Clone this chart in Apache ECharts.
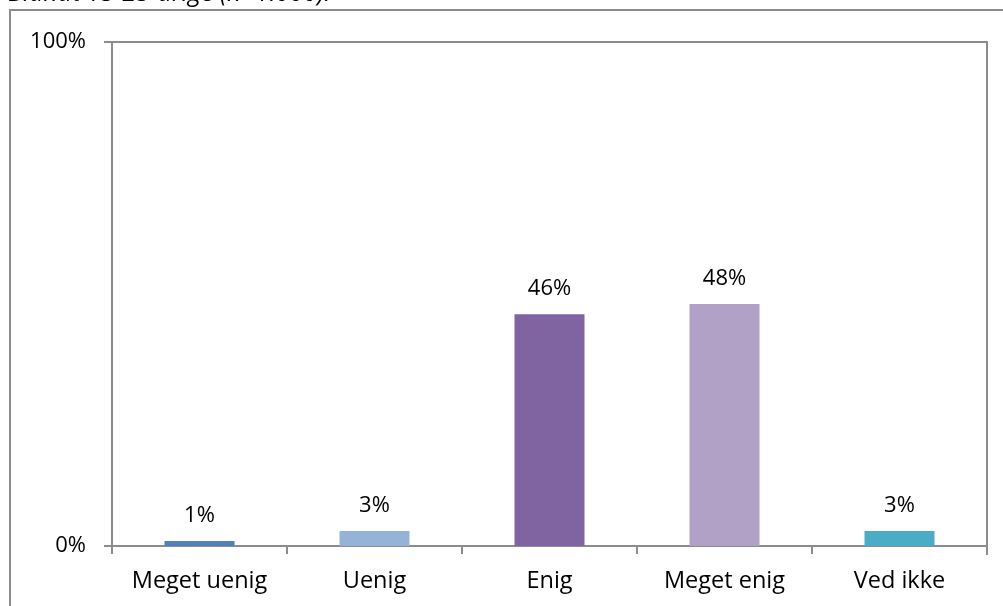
<!DOCTYPE html>
<html><head><meta charset="utf-8">
<script src="https://cdn.jsdelivr.net/npm/echarts@6/dist/echarts.min.js"></script>
<style>html,body{margin:0;padding:0;background:#fff}#c{width:1003px;height:606px}</style>
</head><body><div id="c"></div>
<script>
const categories = ['Meget uenig', 'Uenig', 'Enig', 'Meget enig', 'Ved ikke'];
const values = [1, 3, 46, 48, 3];
const barColors = ['#4F81BD', '#95B3D7', '#8064A2', '#B2A1C7', '#4BACC6'];
const yTicks = [0, 100];
const titleText = 'Blandt 15-25-årige (n=1.000).';

const chart = echarts.init(document.getElementById('c'), null, {renderer: 'canvas'});
const font = '"Open Sans", "Noto Sans", sans-serif';
chart.setOption({
  animation: false,
  graphic: [
    {type: 'rect', shape: {x: 10, y: 10, width: 1100, height: 700}, style: {fill: 'none', stroke: '#8c8c8c', lineWidth: 2}},
    {type: 'text', x: 8, y: -6, style: {text: titleText, fontStyle: 'italic', fontSize: 25, fontFamily: font, fill: '#000', verticalAlign: 'middle'}}
  ],
  grid: {left: 112, right: 16, top: 42, bottom: 60, show: true, borderColor: '#8c8c8c', borderWidth: 0},
  xAxis: {
    type: 'category', data: categories,
    axisLine: {lineStyle: {color: '#8c8c8c', width: 2}},
    axisTick: {show: true, length: 8, lineStyle: {color: '#8c8c8c', width: 2}, alignWithLabel: false},
    axisLabel: {color: '#000', fontSize: 23.5, fontFamily: font, margin: 23, interval: 0}
  },
  yAxis: {
    type: 'value', min: 0, max: 100, interval: 100,
    axisLine: {show: true, lineStyle: {color: '#8c8c8c', width: 2}},
    axisTick: {show: true, length: 8, lineStyle: {color: '#8c8c8c', width: 2}},
    splitLine: {show: true, lineStyle: {color: '#8c8c8c', width: 2}},
    axisLabel: {color: '#000', fontSize: 22, fontFamily: font, margin: 26, formatter: v => yTicks.includes(v) ? v + '%' : ''}
  },
  series: [{
    type: 'bar', barWidth: '40%',
    data: values.map((v, i) => ({value: v, itemStyle: {color: barColors[i]}})),
    label: {show: true, position: 'top', distance: 14, color: '#000', fontSize: 22, fontFamily: font, formatter: p => p.value + '%'}
  }, {
    type: 'line', data: [], markLine: {silent: true, symbol: 'none', label: {show: false},
      lineStyle: {color: '#8c8c8c', width: 2, type: 'solid'},
      data: [[{x: 987, y: 41}, {x: 987, y: 555}]]}
  }]
});
</script></body></html>
